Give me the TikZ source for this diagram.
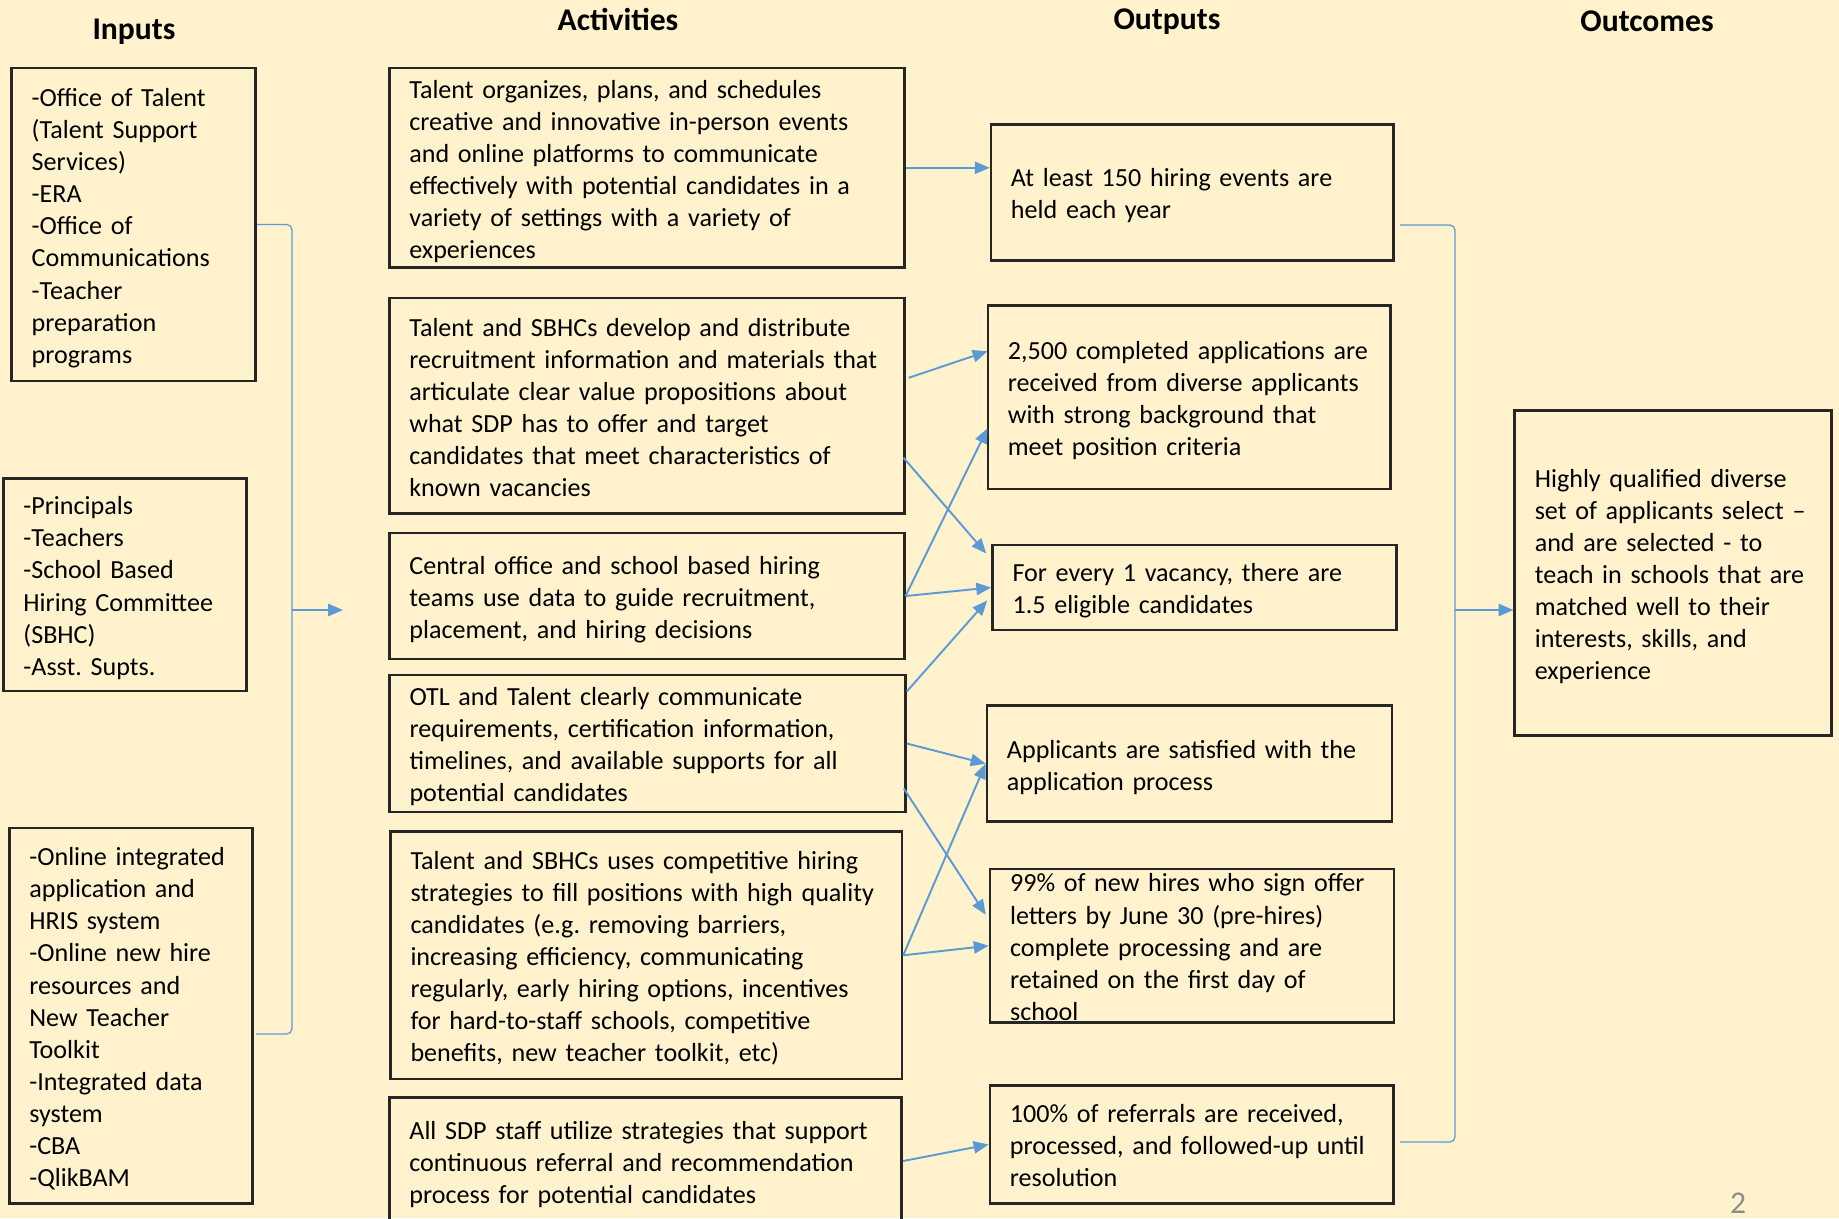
\documentclass[tikz,border=0pt]{standalone}
\usepackage{fontspec}
\setmainfont{Carlito}
\usetikzlibrary{arrows.meta,calc}
\frenchspacing

\definecolor{slidebg}{HTML}{FFF2CC}
\definecolor{flowblue}{HTML}{5B9BD5}
\definecolor{boxline}{HTML}{262626}
\definecolor{pagegray}{HTML}{8C8C8C}

\begin{document}
\begin{tikzpicture}[x=0.02cm, y=-0.02cm,
  box/.style={draw=boxline, line width=1.5pt, inner xsep=0.4cm, inner ysep=0pt,
    align=left, font=\fontsize{14.85}{18.25}\selectfont,
    execute at begin node=\rule{0pt}{17.3pt}, execute at end node=\strut},
  head/.style={font=\fontsize{18}{22}\selectfont\bfseries},
  flow/.style={draw=flowblue, line width=1.1pt, -{Triangle[length=8.5pt,width=7pt]}},
  bracket/.style={draw=flowblue, line width=0.7pt, rounded corners=3pt}]
\useasboundingbox (0,0) rectangle (1839,1218);
\clip (0,0) rectangle (1839,1218);
\fill[slidebg] (0,0) rectangle (1839,1218);

% --- column headings ---
\node[head] (hInputs) at (134,32) {Inputs};
\node[head] (hAct) at (618,19) {Activities};
\node[head] (hOut) at (1167,22) {Outputs};
\node[head] (hOutc) at (1647,21) {Outcomes};

% --- inputs ---
\node[box, minimum width=4.88cm, minimum height=6.26cm, text width=4.08cm] (in1) at (133.7,224.5)
  {-Office of Talent\\(Talent Support\\Services)\\-ERA\\-Office of\\Communications\\-Teacher\\preparation\\programs};
\node[box, minimum width=4.86cm, minimum height=4.25cm, text width=4.06cm] (in2) at (124.9,584.6)
  {-Principals\\-Teachers\\-School Based\\Hiring Committee\\(SBHC)\\-Asst. Supts.};
\node[box, execute at begin node=\rule{0pt}{10.1pt}, minimum width=4.86cm, minimum height=7.51cm, text width=4.06cm] (in3) at (130.8,1015.7)
  {-Online integrated\\application and\\HRIS system\\-Online new hire\\resources and\\New Teacher\\Toolkit\\-Integrated data\\system\\-CBA\\-QlikBAM};

% --- bracket from inputs to activities ---
\coordinate (lb) at (292,610);
\coordinate (lbEnd) at (256,1034);
\coordinate (la) at (343,610);
\draw[bracket] (in1.east) -| (lb) |- (lbEnd);
\draw[flow] (lb) -- (la);

% --- activities ---
\node[box, inner ysep=-0.02cm, minimum width=10.30cm, minimum height=3.99cm, text width=9.50cm] (act1) at (646.8,167.8)
  {Talent organizes, plans, and schedules\\creative and innovative in-person events\\and online platforms to communicate\\effectively with potential candidates in a\\variety of settings with a variety of\\experiences};
\node[box, minimum width=10.30cm, minimum height=4.32cm, text width=9.50cm] (act2) at (646.8,405.8)
  {Talent and SBHCs develop and distribute\\recruitment information and materials that\\articulate clear value propositions about\\what SDP has to offer and target\\candidates that meet characteristics of\\known vacancies};
\node[box, minimum width=10.30cm, minimum height=2.52cm, text width=9.50cm] (act3) at (646.8,596)
  {Central office and school based hiring\\teams use data to guide recruitment,\\placement, and hiring decisions};
\node[box, minimum width=10.32cm, minimum height=2.74cm, text width=9.52cm] (act4) at (647.5,743.5)
  {OTL and Talent clearly communicate\\requirements, certification information,\\timelines, and available supports for all\\potential candidates};
\node[box, minimum width=10.23cm, minimum height=4.95cm, text width=9.43cm] (act5) at (646.2,955.3)
  {Talent and SBHCs uses competitive hiring\\strategies to fill positions with high quality\\candidates (e.g. removing barriers,\\increasing efficiency, communicating\\regularly, early hiring options, incentives\\for hard-to-staff schools, competitive\\benefits, new teacher toolkit, etc)};
\node[box, minimum width=10.25cm, minimum height=2.53cm, text width=9.45cm] (act6) at (645.6,1161)
  {All SDP staff utilize strategies that support\\continuous referral and recommendation\\process for potential candidates};

% --- outputs ---
\node[box, minimum width=8.05cm, minimum height=2.72cm, text width=7.25cm] (out1) at (1192.2,192.4)
  {At least 150 hiring events are\\held each year};
\node[box, minimum width=8.06cm, minimum height=3.67cm, text width=7.26cm] (out2) at (1189.3,397.3)
  {2,500 completed applications~are\\received from diverse applicants\\with strong background that\\meet position criteria};
\node[box, minimum width=8.08cm, minimum height=1.70cm, text width=7.28cm] (out3) at (1194.5,587.5)
  {For every 1 vacancy, there are\\1.5 eligible candidates};
\node[box, minimum width=8.10cm, minimum height=2.32cm, text width=7.30cm] (out4) at (1189.4,763.7)
  {Applicants are satisfied with the\\application process};
\node[box, inner ysep=-0.155cm, minimum width=8.08cm, minimum height=3.07cm, text width=7.28cm] (out5) at (1192,945.7)
  {99\% of new hires who sign offer\\letters by June 30 (pre-hires)\\complete processing and are\\retained on the first day of\\school};
\node[box, minimum width=8.07cm, minimum height=2.35cm, text width=7.27cm] (out6) at (1191.6,1144.5)
  {100\% of referrals are received,\\processed, and followed-up until\\resolution};

% --- activities to outputs ---
\draw[flow] (act1.east) -- (act1.east -| out1.west);
\draw[flow] ($(act2.east)+(3,-28)$) -- ($(out2.west)+(1,-46)$);
\draw[flow] ($(act2.east)+(-2,52)$) -- ($(out3.west)+(-5,-34)$);
\draw[flow] (act3.east) -- ($(out2.west)+(1,31)$);
\draw[flow] (act3.east) -- (out3.west);
\draw[flow] ($(act4.east)+(0,-52)$) -- ($(out3.west)+(-4,13)$);
\draw[flow] (act4.east) -- (out4.west);
\draw[flow] ($(act4.east)+(-3,45)$) -- ($(out5.west)+(-3,-31)$);
\draw[flow] (act5.east) -- (out4.west);
\draw[flow] (act5.east) -- (out5.west);
\draw[flow] (act6.east) -- (out6.west);

% --- outcome ---
\node[box, minimum width=6.33cm, minimum height=6.51cm, text width=5.53cm] (outc) at (1673,573)
  {Highly qualified diverse\\set of applicants select --\\and are selected - to\\teach in schools that are\\matched well to their\\interests, skills, and\\experience};

% --- bracket from outputs to outcome ---
\coordinate (rbTop) at (1400,225);
\coordinate (rbBot) at (1400,1142);
\coordinate (rb) at (1455,610);
\draw[bracket] (rbTop) -| (rb) |- (rbBot);
\draw[flow] (rb) -- (rb -| outc.west);

% --- slide number ---
\node[font=\fontsize{18}{22}\selectfont, text=pagegray] (pgnum) at (1738,1203) {2};
\end{tikzpicture}
\end{document}
